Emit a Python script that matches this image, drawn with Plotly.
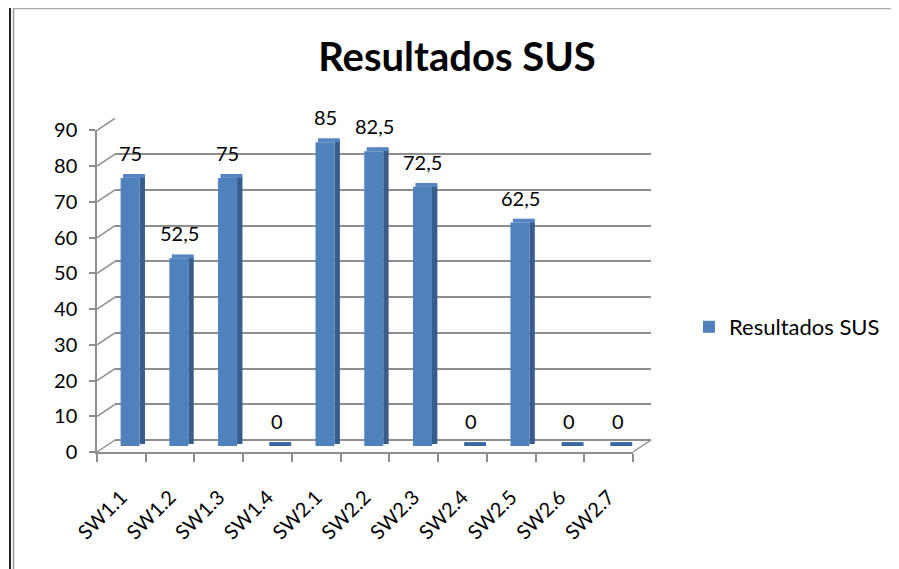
import plotly.graph_objects as go

# data
categories = ["SW1.1", "SW1.2", "SW1.3", "SW1.4", "SW2.1", "SW2.2",
              "SW2.3", "SW2.4", "SW2.5", "SW2.6", "SW2.7"]
sus_scores = [75, 52.5, 75, 0, 85, 82.5, 72.5, 0, 62.5, 0, 0]
y_ticks = [0, 10, 20, 30, 40, 50, 60, 70, 80, 90]

FONT = "Lato"
GRID = "#8e8e8e"
FRONT = "#4F81BD"
SIDE = "#385D8A"
TOP = "#5685C2"
FLAT = "#3C66A3"

# page body has an 8px margin, so target pixels are shifted back by it
OFF = 8
W, H = 899, 569
left, right, top, bottom = 97 - OFF, 651 - OFF, 118 - OFF, 452 - OFF
pw, ph = right - left, bottom - top
dx, dy = 18, 12          # depth offset of back wall
fx1 = (pw - dx) / pw     # front domain end (x)
fy1 = (ph - dy) / ph     # front domain end (y)
bx0 = dx / pw
by0 = dy / ph
mx = (dx / 2) / pw
my = (dy / 2) / ph
YMAX = y_ticks[-1] * 1.001


def label(v):
    return ("%g" % v).replace(".", ",")


def px_x(p):
    return (p - OFF - left) / pw


def px_y(p):
    return (bottom - (p - OFF)) / ph


depth = 1.1  # bar depth in value units
n = len(categories)

fig = go.Figure()

# invisible trace so the front axes get drawn
fig.add_trace(go.Bar(x=categories, y=sus_scores, opacity=0, showlegend=False,
                     hoverinfo="skip", xaxis="x", yaxis="y"))
# dummy trace so the back-wall axes are drawn
fig.add_trace(go.Scatter(x=[0], y=[0], xaxis="x2", yaxis="y2", mode="markers",
                         marker=dict(opacity=0), showlegend=False, hoverinfo="skip"))

# side faces
fig.add_trace(go.Bar(x=categories, y=sus_scores, base=[depth * 0.5] * n,
                     offset=0.19, width=0.11, marker_color=SIDE,
                     marker_line_width=0, showlegend=False, hoverinfo="skip",
                     xaxis="x3", yaxis="y3"))
# top faces (zero-height bars show only a dark flat top)
top_colors = [FLAT if v == 0 else TOP for v in sus_scores]
fig.add_trace(go.Bar(x=categories, y=[depth] * n, base=sus_scores,
                     offset=-0.15, width=0.45, marker_color=top_colors,
                     marker_line_width=0, showlegend=False, hoverinfo="skip",
                     xaxis="x3", yaxis="y3"))
# front faces
fig.add_trace(go.Bar(x=categories, y=sus_scores, name="Resultados SUS",
                     offset=-0.2, width=0.39, marker_color=FRONT,
                     marker_line_width=0, xaxis="x3", yaxis="y3"))

# data labels
for c, v in zip(categories, sus_scores):
    fig.add_annotation(x=c, y=v, xref="x3", yref="y3", text=label(v),
                       showarrow=False, yanchor="middle", yshift=25,
                       font=dict(family=FONT, size=20, color="#000"))

# left wall and floor edges
shapes = []
for v in y_ticks:
    f = v / YMAX
    shapes.append(dict(type="line", xref="paper", yref="paper",
                       x0=0, y0=f * fy1, x1=bx0, y1=by0 + f * (1 - by0),
                       line=dict(color=GRID, width=1.5)))
shapes.append(dict(type="line", xref="paper", yref="paper",
                   x0=fx1, y0=0, x1=1, y1=by0,
                   line=dict(color=GRID, width=1.5)))

# screenshot frame (left + top)
shapes += [
    dict(type="line", xref="paper", yref="paper", x0=px_x(10), x1=px_x(10),
         y0=px_y(5), y1=px_y(H + 10), line=dict(color="#222", width=2)),
    dict(type="line", xref="paper", yref="paper", x0=px_x(13.5), x1=px_x(13.5),
         y0=px_y(8), y1=px_y(H + 10), line=dict(color="#999", width=1.5)),
    dict(type="line", xref="paper", yref="paper", x0=px_x(9), x1=px_x(W + 10),
         y0=px_y(5.5), y1=px_y(5.5), line=dict(color="#222", width=2)),
    dict(type="line", xref="paper", yref="paper", x0=px_x(13), x1=px_x(W + 10),
         y0=px_y(8.5), y1=px_y(8.5), line=dict(color="#aaa", width=1.5)),
]

fig.update_layout(
    width=W, height=H,
    margin=dict(l=left, r=W - right, t=top, b=H - bottom),
    paper_bgcolor="white", plot_bgcolor="rgba(0,0,0,0)",
    barmode="overlay",
    font=dict(family=FONT, size=20, color="#000"),
    title=dict(text="<b>Resultados SUS</b>", x=(457 - OFF) / W, y=1 - (57 - OFF) / H,
               xanchor="center", yanchor="middle", xref="container", yref="container",
               font=dict(family=FONT, size=40, color="#000")),
    # front axes
    xaxis=dict(domain=[0, fx1], anchor="y", type="category",
               categoryorder="array", categoryarray=categories,
               range=[-0.5, n - 0.5],
               showline=True, linecolor=GRID, linewidth=1.5,
               ticks="outside", ticklen=8, tickcolor=GRID, tickwidth=1.5,
               tickson="boundaries", tickangle=-45, ticklabelstandoff=24,
               tickfont=dict(family=FONT, size=20), showgrid=False),
    yaxis=dict(domain=[0, fy1], anchor="x", range=[0, YMAX],
               tickvals=y_ticks, showline=True, linecolor=GRID, linewidth=1.5,
               ticks="outside", ticklen=6, tickcolor=GRID, tickwidth=1.5,
               ticklabelstandoff=8, showgrid=False, zeroline=False,
               tickfont=dict(family=FONT, size=20)),
    # back wall (gridlines)
    xaxis2=dict(domain=[bx0, 1], anchor="y2", visible=False, range=[0, 1]),
    yaxis2=dict(domain=[by0, 1], anchor="x2", range=[0, YMAX], tickvals=y_ticks,
                showgrid=True, gridcolor=GRID, gridwidth=1.5,
                zeroline=True, zerolinecolor=GRID, zerolinewidth=1.5,
                showticklabels=False, ticks=""),
    # mid-depth axes for bars
    xaxis3=dict(domain=[mx, fx1 + mx], anchor="y3", type="category",
                categoryorder="array", categoryarray=categories,
                range=[-0.5, n - 0.5], visible=False),
    yaxis3=dict(domain=[my, fy1 + my], anchor="x3", range=[0, YMAX], visible=False),
    legend=dict(x=px_x(689), y=px_y(327), xanchor="left", yanchor="middle",
                itemwidth=30, font=dict(family=FONT, size=22), bgcolor="rgba(0,0,0,0)"),
    shapes=shapes,
)

fig.write_html("out.html")
